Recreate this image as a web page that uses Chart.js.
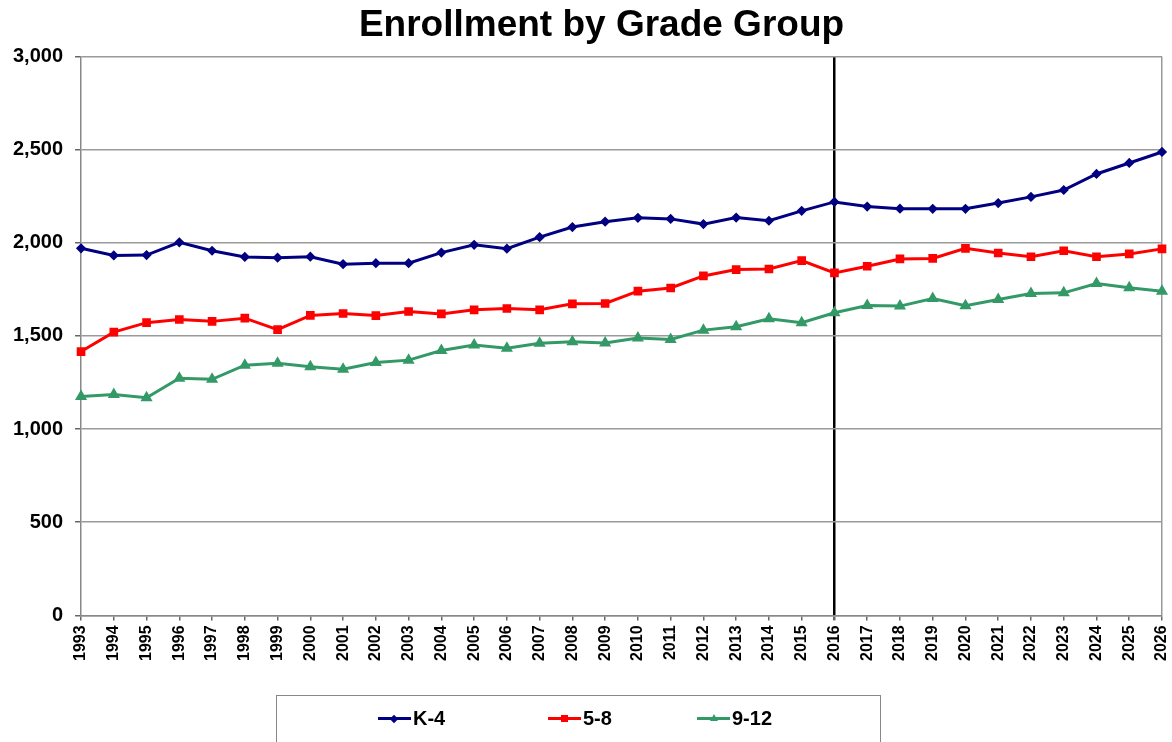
<!DOCTYPE html>
<html>
<head>
<meta charset="utf-8">
<script src="https://cdn.jsdelivr.net/npm/chart.js@4"></script>
<style>
  html, body { margin: 0; padding: 0; background: #fff; }
  #wrap { position: relative; width: 1172px; height: 742px; overflow: hidden; }
  #legendBox {
    position: absolute; left: 276px; top: 695px; width: 605px; height: 60px;
    border: 1.5px solid #888; border-bottom: none; box-sizing: border-box;
    font-family: 'Liberation Sans', Arial, sans-serif; font-weight: bold; font-size: 20px;
    padding-left: 101px; padding-top: 6px; white-space: nowrap;
  }
  .lg-item { display: inline-flex; align-items: center; width: 170px; }
  .lg-item + .lg-item { width: 149px; }
  .lg-line { position: relative; display: inline-block; width: 33px; height: 3px; margin-right: 2px; }
  .lg-mark { position: absolute; left: 13px; top: -2px; width: 7px; height: 7px; }
</style>
</head>
<body>
<div id="wrap">
  <canvas id="enrollChart" width="1172" height="742"></canvas>
  <div id="legendBox"></div>
</div>
<script>
const years = ['1993','1994','1995','1996','1997','1998','1999','2000','2001','2002','2003',
  '2004','2005','2006','2007','2008','2009','2010','2011','2012','2013','2014','2015',
  '2016','2017','2018','2019','2020','2021','2022','2023','2024','2025','2026'];

const k4 = [1970, 1932, 1934, 2002, 1957, 1924, 1920, 1925, 1885, 1890, 1890,
  1947, 1989, 1968, 2030, 2084, 2113, 2134, 2128, 2100, 2135, 2118, 2171,
  2219, 2194, 2183, 2182, 2182, 2213, 2246, 2283, 2369, 2428, 2487];

const g58 = [1416, 1520, 1571, 1588, 1578, 1595, 1534, 1610, 1620, 1609, 1631,
  1618, 1640, 1647, 1640, 1672, 1674, 1740, 1757, 1822, 1856, 1859, 1904,
  1838, 1874, 1913, 1916, 1970, 1945, 1925, 1957, 1925, 1940, 1967];

const g912 = [1175, 1185, 1168, 1273, 1267, 1343, 1353, 1334, 1321, 1357, 1370,
  1422, 1451, 1434, 1460, 1469, 1462, 1489, 1481, 1531, 1549, 1592, 1571,
  1624, 1663, 1660, 1701, 1662, 1695, 1727, 1731, 1781, 1759, 1740];

const splitYear = '2016';
const fontFam = "'Liberation Sans', Arial, sans-serif";

// the title in the original sits a bit right of centre
const titleShift = {
    id: 'titleShift',
    afterLayout(chart) {
        const t = chart.titleBlock;
        if (t) { t.left += 15; t.right += 15; }
    }
};

const ctx = document.getElementById('enrollChart').getContext('2d');
const enrollChart = new Chart(ctx, {
    type: 'line',
    data: {
        labels: years,
        datasets: [{
            label: 'K-4',
            data: k4,
            borderColor: '#000080',
            backgroundColor: '#000080',
            borderWidth: 3,
            pointStyle: 'rectRot',
            pointRadius: 3,
        }, {
            label: '5-8',
            data: g58,
            borderColor: '#ff0000',
            backgroundColor: '#ff0000',
            borderWidth: 3,
            pointStyle: 'rect',
            pointRadius: 4,
        }, {
            label: '9-12',
            data: g912,
            borderColor: '#339966',
            backgroundColor: '#339966',
            borderWidth: 3,
            pointStyle: 'triangle',
            pointRadius: 4,
        }]
    },
    options: {
        responsive: false,
        animation: false,
        layout: { padding: { left: 1, right: 0, top: 0, bottom: 76 } },
        plugins: {
            title: {
                display: true,
                text: 'Enrollment by Grade Group',
                color: '#000',
                font: { family: fontFam, size: 37, weight: 'bold' },
                padding: { top: 4, bottom: 8 }
            },
            legend: { display: false },
            tooltip: { enabled: false }
        },
        scales: {
            x: {
                offset: false,
                afterFit: scale => { scale.paddingRight = 10; },
                border: { display: true, color: '#888', width: 1.5 },
                grid: {
                    drawOnChartArea: true,
                    drawTicks: true,
                    tickLength: 5,
                    tickColor: '#666',
                    color: c => {
                        if (c.tick && c.tick.label === splitYear) return '#000';
                        if (c.index === years.length - 1) return '#999';
                        return 'rgba(0,0,0,0)';
                    },
                    lineWidth: c => (c.tick && c.tick.label === splitYear) ? 2.5 : 1.5
                },
                ticks: {
                    color: '#000',
                    autoSkip: false,
                    maxRotation: 90,
                    minRotation: 90,
                    padding: 5,
                    font: { family: fontFam, size: 16, weight: 'bold' }
                }
            },
            y: {
                min: 0,
                max: 3000,
                border: { display: true, color: '#888', width: 1.5 },
                grid: {
                    color: '#9a9a9a',
                    lineWidth: 1.5,
                    tickLength: 6,
                    tickColor: '#666'
                },
                ticks: {
                    stepSize: 500,
                    color: '#000',
                    padding: 12,
                    font: { family: fontFam, size: 20, weight: 'bold' },
                    callback: v => v.toLocaleString('en-US')
                }
            }
        }
    },
    plugins: [titleShift]
});

// html legend built from the datasets
function markStyle(ds) {
    const c = ds.borderColor;
    if (ds.pointStyle === 'rectRot') return `background:${c};transform:rotate(45deg);width:6px;height:6px;left:13px;top:-1.5px;`;
    if (ds.pointStyle === 'triangle') return `width:0;height:0;border-left:4px solid transparent;border-right:4px solid transparent;border-bottom:7px solid ${c};top:-3px;`;
    return `background:${c};`;
}
const legendBox = document.getElementById('legendBox');
enrollChart.data.datasets.forEach(ds => {
    const item = document.createElement('span');
    item.className = 'lg-item';
    item.innerHTML = `<span class="lg-line" style="background:${ds.borderColor}"><span class="lg-mark" style="${markStyle(ds)}"></span></span>${ds.label}`;
    legendBox.appendChild(item);
});
</script>
</body>
</html>
